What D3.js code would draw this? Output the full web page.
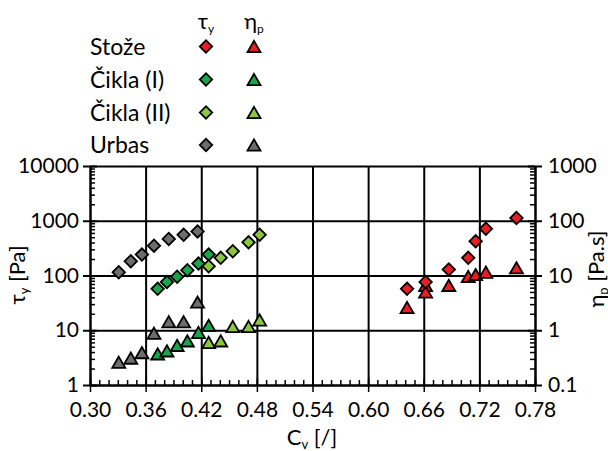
<!DOCTYPE html>
<html>
<head>
<meta charset="utf-8">
<script src="https://cdn.jsdelivr.net/npm/d3@7"></script>
<style>
  html, body { margin: 0; padding: 0; background: #fff; }
  svg { display: block; font-family: Lato, "Open Sans", sans-serif; }
  .axis path, .axis line { stroke: #000; }
  .axis text { font-size: 21px; fill: #000; font-family: Lato, sans-serif; }
</style>
</head>
<body>
<script>
// ---- data ----
var seriesNames = ["Stože", "Čikla (I)", "Čikla (II)", "Urbas"];
var seriesColors = ["#ec1c24", "#16a74a", "#8cc63f", "#6d6d6d"];

var cvStoze = [0.642, 0.662, 0.662, 0.687, 0.708, 0.716, 0.727, 0.760];
var tauStoze = [57, 76, null, 129, 210, 421, 716, 1120];
var etaStoze = [2.6, 6.6, 5.0, 6.6, 9.6, 10.4, 11.5, 13.8];

var cvCikla1 = [0.373, 0.383, 0.394, 0.405, 0.417, 0.428];
var tauCikla1 = [57, 76, 95, 125, 165, 241];
var etaCikla1 = [0.37, 0.42, 0.53, 0.64, 0.91, 1.23];

var cvCikla2 = [0.428, 0.441, 0.454, 0.471, 0.483];
var tauCikla2 = [148, 210, 277, 403, 556];
var etaCikla2 = [0.60, 0.64, 1.17, 1.17, 1.54];

var cvUrbas = [0.331, 0.344, 0.356, 0.369, 0.385, 0.401, 0.416];
var tauUrbas = [115, 182, 241, 351, 465, 556, 639];
var etaUrbas = [0.26, 0.31, 0.39, 0.88, 1.43, 1.43, 3.27];

var xTicks = [0.30, 0.36, 0.42, 0.48, 0.54, 0.60, 0.66, 0.72, 0.78];
var tauTicks = [1, 10, 100, 1000, 10000];
var etaTicks = [0.1, 1, 10, 100, 1000];

var groups = [
  { cv: cvStoze, tau: tauStoze, eta: etaStoze },
  { cv: cvCikla1, tau: tauCikla1, eta: etaCikla1 },
  { cv: cvCikla2, tau: tauCikla2, eta: etaCikla2 },
  { cv: cvUrbas, tau: tauUrbas, eta: etaUrbas }
];

// ---- layout ----
var W = 608, H = 451;
var plotL = 90, plotR = 535, plotT = 166, plotB = 385;

var svg = d3.select("body").append("svg").attr("width", W).attr("height", H);

var x = d3.scaleLinear().domain([0.30, 0.78]).range([plotL, plotR]);
var yL = d3.scaleLog().domain([1, 10000]).range([plotB, plotT]);
var yR = d3.scaleLog().domain([0.1, 1000]).range([plotB, plotT]);

// minor tick values
var xMinor = d3.range(30, 79, 1).map(function (d) { return d / 100; });
function logMinors(lo, hi) {
  var out = [];
  for (var p = lo; p < hi; p *= 10) {
    for (var k = 2; k <= 9; k++) out.push(p * k);
  }
  return out;
}
var tauMinor = logMinors(1, 10000);
var etaMinor = logMinors(0.1, 1000);

function lines(w) {
  return function (g) { g.selectAll(".tick line").attr("stroke-width", w); };
}

// grid lines
svg.append("g").attr("class", "axis grid")
  .attr("transform", "translate(0," + plotB + ")")
  .call(d3.axisBottom(x).tickValues(xTicks).tickSize(-(plotB - plotT)).tickFormat(""))
  .call(function (g) { g.select(".domain").remove(); })
  .call(lines(2));
svg.append("g").attr("class", "axis grid")
  .attr("transform", "translate(" + plotL + ",0)")
  .call(d3.axisLeft(yL).tickValues(tauTicks).tickSize(-(plotR - plotL)).tickFormat(""))
  .call(function (g) { g.select(".domain").remove(); })
  .call(lines(2));

// bottom axis
svg.append("g").attr("class", "axis")
  .attr("transform", "translate(0," + plotB + ")")
  .call(d3.axisTop(x).tickValues(xMinor).tickSize(5).tickFormat(""))
  .call(function (g) { g.select(".domain").remove(); })
  .call(lines(1.5));
svg.append("g").attr("class", "axis")
  .attr("transform", "translate(0," + plotB + ")")
  .call(d3.axisBottom(x).tickValues(xTicks).tickSize(7).tickSizeOuter(0).tickPadding(10).tickFormat(d3.format(".2f")))
  .call(function (g) { g.select(".domain").attr("stroke-width", 2); })
  .call(lines(1.5));
svg.append("g").attr("class", "axis")
  .attr("transform", "translate(0," + plotB + ")")
  .call(d3.axisTop(x).tickValues(xTicks).tickSize(7).tickFormat(""))
  .call(function (g) { g.select(".domain").remove(); })
  .call(lines(1.5));

// left axis
svg.append("g").attr("class", "axis")
  .attr("transform", "translate(" + plotL + ",0)")
  .call(d3.axisRight(yL).tickValues(tauMinor).tickSize(5).tickFormat(""))
  .call(function (g) { g.select(".domain").remove(); })
  .call(lines(1.5));
svg.append("g").attr("class", "axis")
  .attr("transform", "translate(" + plotL + ",0)")
  .call(d3.axisLeft(yL).tickValues(tauTicks).tickSize(7).tickSizeOuter(0).tickPadding(4).tickFormat(d3.format("d")))
  .call(function (g) { g.select(".domain").attr("stroke-width", 2); })
  .call(lines(2));
svg.append("g").attr("class", "axis")
  .attr("transform", "translate(" + plotL + ",0)")
  .call(d3.axisRight(yL).tickValues(tauTicks).tickSize(7).tickFormat(""))
  .call(function (g) { g.select(".domain").remove(); })
  .call(lines(2));

// right axis
svg.append("g").attr("class", "axis")
  .attr("transform", "translate(" + plotR + ",0)")
  .call(d3.axisLeft(yR).tickValues(etaMinor).tickSize(5).tickFormat(""))
  .call(function (g) { g.select(".domain").remove(); })
  .call(lines(1.5));
svg.append("g").attr("class", "axis")
  .attr("transform", "translate(" + plotR + ",0)")
  .call(d3.axisRight(yR).tickValues(etaTicks).tickSize(7).tickSizeOuter(0).tickPadding(6)
    .tickFormat(function (d) { return d < 1 ? "0.1" : d3.format("d")(d); }))
  .call(function (g) { g.select(".domain").attr("stroke-width", 2); })
  .call(lines(2));
svg.append("g").attr("class", "axis")
  .attr("transform", "translate(" + plotR + ",0)")
  .call(d3.axisLeft(yR).tickValues(etaTicks).tickSize(7).tickFormat(""))
  .call(function (g) { g.select(".domain").remove(); })
  .call(lines(2));

// markers
var triSide = 13;
var triH = triSide * Math.sqrt(3) / 2;
var triangle = d3.symbol().type(d3.symbolTriangle).size(Math.sqrt(3) / 4 * triSide * triSide);
var diamond = d3.symbol().type(d3.symbolSquare).size(8.8 * 8.8);

function drawTri(g, px, py, color) {
  g.append("path").attr("d", triangle())
    .attr("transform", "translate(" + px + "," + (py + triH / 6) + ")")
    .attr("fill", color).attr("stroke", "#000").attr("stroke-width", 1.8);
}
function drawDia(g, px, py, color) {
  g.append("path").attr("d", diamond())
    .attr("transform", "translate(" + px + "," + py + ") rotate(45)")
    .attr("fill", color).attr("stroke", "#000").attr("stroke-width", 1.8);
}

var marks = svg.append("g");
groups.forEach(function (grp, i) {
  grp.cv.forEach(function (c, j) {
    if (grp.eta[j] != null) drawTri(marks, x(c), yR(grp.eta[j]), seriesColors[i]);
  });
});
groups.forEach(function (grp, i) {
  grp.cv.forEach(function (c, j) {
    if (grp.tau[j] != null) drawDia(marks, x(c), yL(grp.tau[j]), seriesColors[i]);
  });
});

// legend
var legend = svg.append("g");
var rowY = [46.5, 79.5, 112.5, 145];
var hdr = legend.append("text").attr("x", 206).attr("y", 29).attr("text-anchor", "middle")
  .style("font-size", "22px");
hdr.append("tspan").text("τ");
hdr.append("tspan").attr("dy", 4).style("font-size", "12px").text("y");
var hdr2 = legend.append("text").attr("x", 254).attr("y", 29).attr("text-anchor", "middle")
  .style("font-size", "22px");
hdr2.append("tspan").text("η");
hdr2.append("tspan").attr("dy", 4).style("font-size", "12px").text("p");

seriesNames.forEach(function (name, i) {
  legend.append("text").attr("x", 90).attr("y", rowY[i]).attr("dy", "0.36em")
    .style("font-size", "23px").text(name);
  drawDia(legend, 206, rowY[i], seriesColors[i]);
  drawTri(legend, 254, rowY[i], seriesColors[i]);
});

// axis titles
var xt = svg.append("text").attr("x", 312).attr("y", 445).attr("text-anchor", "middle")
  .style("font-size", "22px");
xt.append("tspan").text("C");
xt.append("tspan").attr("dy", 4).style("font-size", "13px").text("v");
xt.append("tspan").attr("dy", -4).text(" [/]");

var yt = svg.append("text").attr("transform", "translate(25,275) rotate(-90)")
  .attr("text-anchor", "middle").style("font-size", "22px");
yt.append("tspan").text("τ");
yt.append("tspan").attr("dy", 4).style("font-size", "13px").text("y");
yt.append("tspan").attr("dy", -4).text(" [Pa]");

var yt2 = svg.append("text").attr("transform", "translate(604,269) rotate(-90)")
  .attr("text-anchor", "middle").style("font-size", "22px");
yt2.append("tspan").text("η");
yt2.append("tspan").attr("dy", 4).style("font-size", "13px").text("p");
yt2.append("tspan").attr("dy", -4).text(" [Pa.s]");
</script>
</body>
</html>
